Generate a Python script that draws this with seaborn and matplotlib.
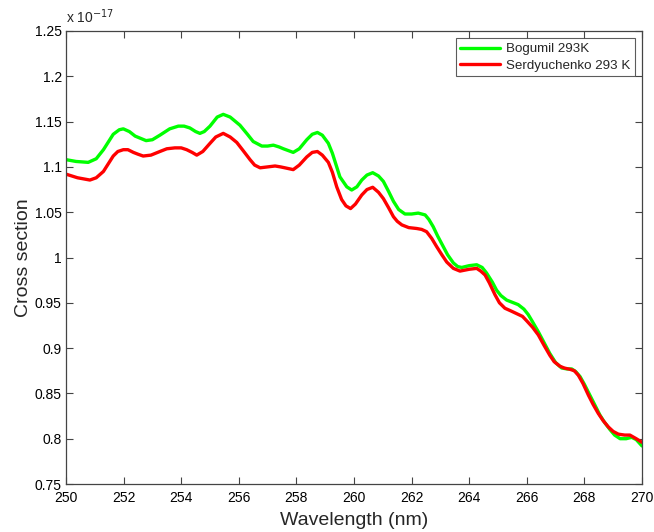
import numpy as np
import pandas as pd
import matplotlib
matplotlib.use("Agg")
import matplotlib.pyplot as plt
import seaborn as sns

bog_wl = [250.0, 250.35, 250.77, 251.05, 251.3, 251.64, 251.85, 251.99, 252.2, 252.4, 252.78, 253.0,
          253.26, 253.6, 253.9, 254.1, 254.3, 254.5, 254.65, 254.8, 255.0, 255.25, 255.46, 255.7,
          256.04, 256.3, 256.5, 256.8, 257.0, 257.2, 257.4, 257.55, 257.89, 258.1, 258.36, 258.55,
          258.73, 258.9, 259.11, 259.25, 259.4, 259.51, 259.75, 259.92, 260.1, 260.27, 260.45, 260.65,
          260.85, 261.02, 261.2, 261.37, 261.55, 261.77, 262.0, 262.23, 262.47, 262.6, 262.75, 262.9,
          263.1, 263.25, 263.45, 263.6, 263.74, 264.0, 264.26, 264.45, 264.6, 264.8, 264.95, 265.1,
          265.3, 265.7, 265.9, 266.05, 266.2, 266.4, 266.6, 266.8, 267.0, 267.21, 267.4, 267.56,
          267.7, 267.85, 268.0, 268.19, 268.35, 268.54, 268.7, 268.89, 269.05, 269.24, 269.45, 269.64,
          269.8, 270.0]
bog_xs = [1.108, 1.106, 1.105, 1.109, 1.119, 1.136, 1.141, 1.142, 1.139, 1.134, 1.129, 1.130,
          1.135, 1.142, 1.145, 1.145, 1.143, 1.139, 1.137, 1.139, 1.145, 1.155, 1.158, 1.155,
          1.146, 1.136, 1.128, 1.123, 1.123, 1.124, 1.122, 1.120, 1.116, 1.120, 1.130, 1.136,
          1.138, 1.135, 1.126, 1.115, 1.100, 1.089, 1.078, 1.0745, 1.078, 1.0855, 1.091, 1.0936,
          1.090, 1.084, 1.073, 1.062, 1.053, 1.048, 1.048, 1.049, 1.047, 1.042, 1.034, 1.024,
          1.012, 1.003, 0.994, 0.990, 0.989, 0.991, 0.992, 0.989, 0.983, 0.973, 0.964, 0.958,
          0.953, 0.948, 0.943, 0.937, 0.929, 0.918, 0.906, 0.894, 0.884, 0.878, 0.877, 0.877,
          0.874, 0.8685, 0.860, 0.848, 0.838, 0.826, 0.818, 0.810, 0.804, 0.800, 0.800, 0.8015,
          0.799, 0.792]

ser_wl = [250.0, 250.4, 250.83, 251.05, 251.3, 251.5, 251.64, 251.8, 251.99, 252.15, 252.34, 252.5,
          252.68, 252.95, 253.26, 253.5, 253.78, 254.0, 254.19, 254.38, 254.54, 254.75, 255.0, 255.2,
          255.46, 255.7, 255.93, 256.15, 256.39, 256.55, 256.74, 257.0, 257.26, 257.45, 257.6, 257.89,
          258.1, 258.36, 258.55, 258.73, 258.9, 259.11, 259.25, 259.4, 259.57, 259.72, 259.88, 260.05,
          260.27, 260.45, 260.65, 260.85, 261.02, 261.2, 261.37, 261.5, 261.66, 261.9, 262.18, 262.35,
          262.52, 262.7, 262.87, 263.05, 263.22, 263.45, 263.68, 264.0, 264.26, 264.4, 264.55, 264.7,
          264.9, 265.05, 265.24, 265.45, 265.65, 265.85, 266.0, 266.2, 266.4, 266.6, 266.8, 266.95,
          267.15, 267.3, 267.5, 267.65, 267.79, 267.95, 268.14, 268.3, 268.48, 268.65, 268.83, 269.0,
          269.18, 269.4, 269.58, 269.8, 270.0]
ser_xs = [1.092, 1.088, 1.0855, 1.088, 1.095, 1.105, 1.112, 1.117, 1.119, 1.119, 1.116, 1.114,
          1.112, 1.113, 1.117, 1.120, 1.121, 1.121, 1.119, 1.116, 1.113, 1.117, 1.126, 1.133,
          1.137, 1.133, 1.127, 1.118, 1.108, 1.102, 1.099, 1.100, 1.101, 1.100, 1.099, 1.097,
          1.102, 1.111, 1.116, 1.117, 1.113, 1.105, 1.094, 1.078, 1.064, 1.057, 1.054, 1.059,
          1.069, 1.075, 1.0775, 1.072, 1.065, 1.055, 1.045, 1.040, 1.036, 1.033, 1.032, 1.031,
          1.0285, 1.021, 1.012, 1.003, 0.995, 0.988, 0.985, 0.987, 0.988, 0.985, 0.9807, 0.972,
          0.9586, 0.950, 0.944, 0.941, 0.938, 0.935, 0.930, 0.923, 0.9145, 0.903, 0.892, 0.885,
          0.880, 0.878, 0.8766, 0.875, 0.870, 0.861, 0.848, 0.838, 0.828, 0.820, 0.813, 0.808,
          0.805, 0.804, 0.804, 0.800, 0.796]

series_names = ["Bogumil 293K", "Serdyuchenko 293 K"]
x_ticks = [250, 252, 254, 256, 258, 260, 262, 264, 266, 268, 270]
y_ticks = [0.75, 0.8, 0.85, 0.9, 0.95, 1.0, 1.05, 1.1, 1.15, 1.2, 1.25]

df = pd.concat([
    pd.DataFrame({"Wavelength": bog_wl, "Cross section": bog_xs, "Series": series_names[0]}),
    pd.DataFrame({"Wavelength": ser_wl, "Cross section": ser_xs, "Series": series_names[1]}),
], ignore_index=True)

sns.set_style("ticks")
plt.rcParams["font.family"] = ["Liberation Sans", "DejaVu Sans"]
plt.rcParams["lines.solid_joinstyle"] = "round"
plt.rcParams["lines.solid_capstyle"] = "round"

fig = plt.figure(figsize=(6.54, 5.32), dpi=100)
ax = fig.add_axes([66 / 654, 48 / 532, 576 / 654, 453 / 532])

sns.lineplot(data=df, x="Wavelength", y="Cross section", hue="Series",
             palette={series_names[0]: "#00ff00", series_names[1]: "#ff0000"},
             linewidth=2.4, ax=ax, sort=False, estimator=None)

ax.set_xlim(250, 270)
ax.set_ylim(0.75, 1.25)
ax.set_xticks(x_ticks)
ax.set_yticks(y_ticks)
ax.set_xticklabels([f"{t:g}" for t in x_ticks])
ax.set_yticklabels([f"{t:g}" for t in y_ticks])
ax.tick_params(direction="in", top=True, right=True, length=5, width=0.8,
               color="#444444", labelsize=10, labelcolor="black")
ax.tick_params(axis="x", pad=5)
ax.tick_params(axis="y", pad=3)
for s in ax.spines.values():
    s.set_color("#444444")
    s.set_linewidth(0.9)
    s.set_visible(True)

ax.set_xlabel("Wavelength (nm)", fontsize=14, labelpad=5)
ax.set_ylabel("Cross section", fontsize=14, labelpad=2)

ax.text(0.0, 1.01, r"x 10$^{-17}$", transform=ax.transAxes, fontsize=10,
        ha="left", va="bottom")

leg = ax.legend(loc="upper right", fontsize=9.6, frameon=True, fancybox=False,
                borderpad=0.35, labelspacing=0.3, handlelength=3.0, handletextpad=0.4,
                borderaxespad=0.55)
leg.get_frame().set_edgecolor("#333333")
leg.get_frame().set_linewidth(0.8)
for line in leg.get_lines():
    line.set_linewidth(2.4)

fig.savefig("out.png", dpi=100)
